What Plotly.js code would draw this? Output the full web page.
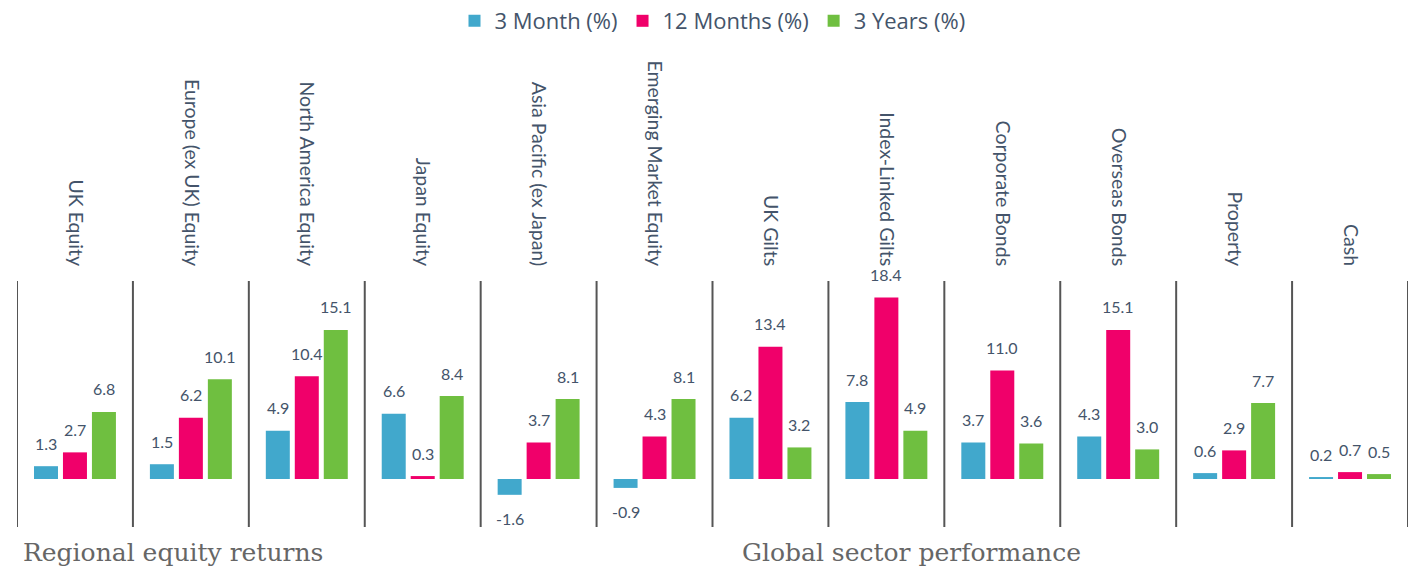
<!DOCTYPE html>
<html>
<head>
<meta charset="utf-8">
<script src="https://cdn.plot.ly/plotly-3.0.1.min.js"></script>
<style>html,body{margin:0;padding:0;background:#fff;}#chart{width:1410px;height:567px;}</style>
</head>
<body>
<div id="chart"></div>
<script>
const categories = ["UK Equity","Europe (ex UK) Equity","North America Equity","Japan Equity","Asia Pacific (ex Japan)","Emerging Market Equity","UK Gilts","Index-Linked Gilts","Corporate Bonds","Overseas Bonds","Property","Cash"];
const month3 = [1.3, 1.5, 4.9, 6.6, -1.6, -0.9, 6.2, 7.8, 3.7, 4.3, 0.6, 0.2];
const months12 = [2.7, 6.2, 10.4, 0.3, 3.7, 4.3, 13.4, 18.4, 11.0, 15.1, 2.9, 0.7];
const years3 = [6.8, 10.1, 15.1, 8.4, 8.1, 8.1, 3.2, 4.9, 3.6, 3.0, 7.7, 0.5];
const seriesNames = ["3 Month (%)", "12 Months (%)", "3 Years (%)"];
const seriesColors = ["#41A8CC", "#F0006A", "#6FBF40"];
const sectionTitles = ["Regional equity returns", "Global sector performance"];

const textColor = "#44546A";
const sans = "Lato, 'Open Sans', sans-serif";
const allSeries = [month3, months12, years3];
const traces = allSeries.map((vals, i) => ({
  type: "bar",
  name: seriesNames[i],
  x: categories,
  y: vals,
  marker: {color: seriesColors[i]},
  hoverinfo: "x+y"
}));

const shapes = [];
for (let i = 0; i <= categories.length; i++) {
  shapes.push({type: "line", xref: "x", yref: "paper", x0: i - 0.5, x1: i - 0.5, y0: 0, y1: 1,
    line: {color: "#555555", width: 2}});
}

const annotations = [];
allSeries.forEach((vals, i) => {
  vals.forEach((v, j) => {
    annotations.push({
      x: categories[j], y: v, xref: "x", yref: "y",
      text: v.toFixed(1), showarrow: false,
      xanchor: "center", yanchor: "middle",
      xshift: (i - 1) * 29, yshift: v >= 0 ? 23 : -24,
      font: {family: sans, size: 16, color: textColor}
    });
  });
});
annotations.push(
  {text: sectionTitles[0], xref: "paper", yref: "paper", x: 0.003, y: -0.038, xanchor: "left", yanchor: "top", showarrow: false,
    font: {family: "'DejaVu Serif', serif", size: 25, color: "#666666"}},
  {text: sectionTitles[1], xref: "paper", yref: "paper", x: 0.5195, y: -0.038, xanchor: "left", yanchor: "top", showarrow: false,
    font: {family: "'DejaVu Serif', serif", size: 25, color: "#666666"}}
);

const layout = {
  width: 1410, height: 567,
  margin: {l: 17, r: 2, t: 281, b: 40},
  paper_bgcolor: "#ffffff", plot_bgcolor: "#ffffff",
  barmode: "group",
  bargap: 0.25,
  bargroupgap: 0.172,
  showlegend: true,
  legend: {orientation: "h", x: 0.5, xanchor: "center", y: 1, yref: "container", yanchor: "top",
    font: {family: "'Open Sans', sans-serif", size: 22, color: textColor}, itemwidth: 30, traceorder: "normal"},
  xaxis: {side: "top", tickangle: 90, showgrid: false, zeroline: false, showline: false, ticks: "",
    range: [-0.5, categories.length - 0.5], ticklabelstandoff: 11,
    tickfont: {family: sans, size: 19.5, color: textColor}, automargin: false},
  yaxis: {range: [-4.86, 20.06], showgrid: false, zeroline: false, showticklabels: false, ticks: "", showline: false, fixedrange: true},
  shapes: shapes,
  annotations: annotations
};

Plotly.newPlot("chart", traces, layout, {displayModeBar: false, staticPlot: true});
</script>
</body>
</html>
